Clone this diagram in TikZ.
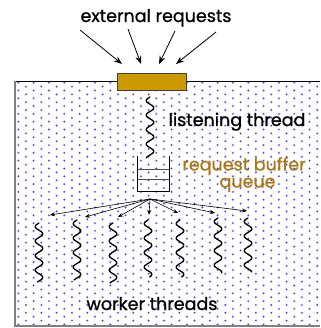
\documentclass[tikz,border=0pt]{standalone}
\usepackage{fontspec}
\setmainfont{Poppins}[RawFeature={embolden=0.8}]
\usetikzlibrary{arrows.meta}
\definecolor{dotblue}{RGB}{50,50,230}
\definecolor{boxgold}{RGB}{204,153,0}
\definecolor{textgold}{RGB}{170,120,25}
\tikzset{
 lbl/.style={font=\fontsize{17.5}{20}\selectfont, inner sep=0pt, anchor=base},
 inarrow/.style={line width=0.8pt, -{Stealth[length=8pt,width=6pt]}},
 fanarrow/.style={line width=0.6pt, -{Stealth[length=5pt,width=4pt]}},
 wiggle/.style={line width=1.3pt, line cap=round},
 queueline/.style={line width=1pt},
}
\newcommand{\wig}[3]{\draw[wiggle] plot[domain=#2:#3, samples=90, smooth, variable=\t] ({#1-3.8*sin((\t-#2)*24.83)},{\t});}
\begin{document}
\begin{tikzpicture}[x=1pt,y=-1pt]
\useasboundingbox (0,0) rectangle (320,328);
% dotted background
\begin{scope}
\clip (16,82) rectangle (320,325);
\foreach \j in {0,...,62}{
  \pgfmathsetmacro{\yy}{82.7+3.9*\j}
  \pgfmathsetmacro{\xo}{18.3+7.67*mod(\j,2)}
  \foreach \k in {0,...,20}{
    \fill[dotblue!25] ({\xo+15.33*\k},\yy) circle (1.5);
    \fill[dotblue] ({\xo+15.33*\k},\yy) circle (0.8);
  }
}
\end{scope}
% borders
\draw[black, line width=0.8pt] (15,81) -- (320,81);
\draw[gray, line width=2pt] (15,81) -- (15,326) -- (320,326);
% listener box
\node[draw=black!75, fill=boxgold, line width=1pt, minimum width=69, minimum height=17, inner sep=0pt, anchor=north west] (listener) at (116.7,72.7) {};
% external requests
\node[lbl] (ext) at (156,22) {external requests};
\coordinate (e1) at (80,30);  \coordinate (t1) at (122,64);
\coordinate (e2) at (128,29); \coordinate (t2) at (141,64);
\coordinate (e3) at (175,31); \coordinate (t3) at (159,64);
\coordinate (e4) at (216,32); \coordinate (t4) at (176,64);
\draw[inarrow] (e1) -- (t1);
\draw[inarrow] (e2) -- (t2);
\draw[inarrow] (e3) -- (t3);
\draw[inarrow] (e4) -- (t4);
% listening thread
\wig{150}{97}{158}
\node[lbl] (lt) at (237,126) {listening thread};
% queue
\draw[queueline] (137.5,156) -- (137.5,191) -- (169,191) -- (169,156);
\draw[queueline, black!70] (137.5,169.5) -- (169,169.5);
\draw[queueline, black!70] (137.5,180) -- (169,180);
\node[lbl, text=textgold] (rb) at (244,170.5) {request buffer};
\node[lbl, text=textgold] (qu) at (247.5,187.5) {queue};
% fan out
\coordinate (fan) at (150,199);
\coordinate (w1) at (50,215);
\coordinate (w2) at (85,217);
\coordinate (w3) at (118,217);
\coordinate (w4) at (149,215);
\coordinate (w5) at (178,213);
\coordinate (w6) at (215,213);
\coordinate (w7) at (247,211);
\foreach \w in {w1,w2,w3,w4,w5,w6,w7}{\draw[fanarrow] (fan) -- (\w);}
% worker threads
\wig{39}{223}{282}
\wig{77}{220}{280}
\wig{113}{223}{283}
\wig{148}{220}{277}
\wig{180}{220}{277}
\wig{218}{218}{273}
\wig{248}{218}{272}
\node[lbl] (wt) at (152,310) {worker threads};
\end{tikzpicture}
\end{document}
